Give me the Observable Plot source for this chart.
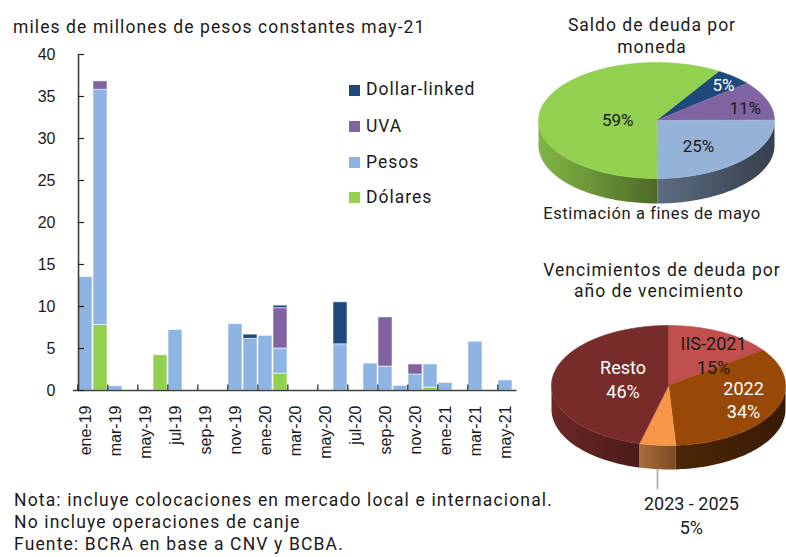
<!DOCTYPE html>
<html><head><meta charset="utf-8">
<script src="https://cdn.jsdelivr.net/npm/d3@7"></script>
<script src="https://cdn.jsdelivr.net/npm/@observablehq/plot@0.6"></script>
<style>
body{margin:0;background:#fff;}
#root{position:relative;width:786px;height:557px;overflow:hidden;font-family:Roboto,sans-serif;color:#1a1a1a;background:#fff;}
#root svg{position:absolute;overflow:visible;}
</style></head><body><div id="root"></div>
<script>
// ---------- Data ----------
const months = ["ene-19","feb-19","mar-19","abr-19","may-19","jun-19","jul-19","ago-19","sep-19","oct-19","nov-19","dic-19",
  "ene-20","feb-20","mar-20","abr-20","may-20","jun-20","jul-20","ago-20","sep-20","oct-20","nov-20","dic-20",
  "ene-21","feb-21","mar-21","abr-21","may-21"];
const dolares      = [0,7.8,0,0,0,4.2,0,0,0,0,0,0, 0,2.0,0,0,0,0,0,0,0,0,0,0.35, 0,0,0,0,0];
const pesos        = [13.5,28.0,0.5,0,0,0,7.2,0,0,0,7.9,6.15, 6.5,3.0,0,0,0,5.5,0,3.2,2.85,0.55,1.9,2.75, 0.9,0,5.8,0,1.2];
const uva          = [0,1.0,0,0,0,0,0,0,0,0,0,0, 0,4.8,0,0,0,0,0,0,5.85,0,1.2,0, 0,0,0,0,0];
const dollarLinked = [0,0,0,0,0,0,0,0,0,0,0,0.5, 0,0.3,0,0,0,5.0,0,0,0,0,0,0, 0,0,0,0,0];
const seriesNames  = ["Dólares","Pesos","UVA","Dollar-linked"];
const legendOrder  = ["Dollar-linked","UVA","Pesos","Dólares"];
const xTickLabels  = months.filter((m,i)=>i%2===0);
const yTicks       = [0,5,10,15,20,25,30,35,40];

const pie1Names  = ["Dollar-linked","UVA","Pesos","Dólares"];
const pie1Values = [5,11,25,59];
const pie2Names  = ["IIS-2021","2022","2023 - 2025","Resto"];
const pie2Values = [15,34,5,46];

// ---------- Styles ----------
const seriesColors = {"Dólares":"#92d050","Pesos":"#8db4e2","UVA":"#8064a2","Dollar-linked":"#1f497d"};
const textColor = "#1a1a1a";
const axisFont = "'Liberation Sans', Arial, sans-serif";
const root = document.getElementById("root");

function addText(txt, x, baseline, {size=17.5, anchor="start", ls=1, color=textColor, family="Roboto, sans-serif"}={}) {
  const el = document.createElement("div");
  el.textContent = txt;
  Object.assign(el.style, {position:"absolute", left:x+"px", top:(baseline-0.9415*size)+"px",
    fontSize:size+"px", lineHeight:(1.2*size)+"px", whiteSpace:"nowrap", letterSpacing:ls+"px",
    fontFamily:family, color});
  if (anchor==="middle") el.style.transform = "translateX(-50%)";
  root.appendChild(el);
  return el;
}

// ---------- Bar chart ----------
const rows = [];
months.forEach((m,i)=>{
  const vals = {"Dólares":dolares[i],"Pesos":pesos[i],"UVA":uva[i],"Dollar-linked":dollarLinked[i]};
  seriesNames.forEach(s=>{ if (vals[s]>0) rows.push({month:m, series:s, value:vals[s]}); });
});
const W = 530, H = 480, xL = 73, xR = 516.5, yTop = 54, yBase = 390;
const pin = 0.09;
const step = (xR-xL)/(months.length - pin);
const bw = step*(1-pin);
const axisColor = "#404040";

const bars = Plot.plot({
  width: W, height: H,
  marginLeft: xL, marginRight: W-xR, marginTop: yTop, marginBottom: H-yBase,
  style: {background:"transparent", color: textColor, overflow:"visible"},
  x: {type:"band", domain: months, paddingInner: pin, paddingOuter: 0, label:null},
  y: {domain:[0,40], label:null},
  color: {domain: seriesNames, range: seriesNames.map(s=>seriesColors[s])},
  marks: [
    Plot.barY(rows, {x:"month", y:"value", fill:"series", order: seriesNames, stroke:"#ffffff", strokeOpacity:0.55, strokeWidth:1}),
    Plot.ruleY([0], {stroke: axisColor, strokeWidth: 1.6}),
    Plot.ruleX([months[0]], {x: d=>d, y1: 0, y2: 40, dx: -bw/2, stroke: axisColor, strokeWidth: 1.6}),
    Plot.ruleX(xTickLabels, {x: d=>d, y1: 0, y2: 0.65, dx: -step/2, stroke: "#222", strokeWidth: 1.2}),
    Plot.tickY(yTicks, {y: d=>d, x: () => months[0], insetRight: bw-6, stroke:"#222", strokeWidth: 1.2}),
    Plot.axisY({ticks: yTicks, tickSize: 0, tickPadding: 18, fontSize: 16, fontFamily: axisFont, label: null, anchor:"left"}),
    Plot.axisX({ticks: xTickLabels, tickSize: 0, tickRotate: -90, tickPadding: 15, fontSize: 16, fontFamily: axisFont, label: null})
  ]
});
bars.style.left = "0px"; bars.style.top = "0px";
root.appendChild(bars);

addText("miles de millones de pesos constantes may-21", 13, 33, {size:17.5, ls:1.1});

// Legend
const legendBaselines = [95.7, 132, 168, 203.3];
legendOrder.forEach((s,k)=>{
  const sq = document.createElement("div");
  Object.assign(sq.style, {position:"absolute", left:"349px", top:(legendBaselines[k]-11)+"px", width:"11px", height:"11px", background: seriesColors[s]});
  root.appendChild(sq);
  addText(s, 366, legendBaselines[k], {size:17.5, ls:1});
});

// ---------- 3D pies ----------
function pieChart({id, names, values, colors, sideColors, startAngle, width, height, cx, cy, rx, ry, depth, labelLayout, labelColors, labelText, fontSize, lineHeight, leader}) {
  const total = d3.sum(values);
  let a = startAngle;
  const slices = values.map((v,i)=>{ const a0 = a; a += v/total*360; return {i, a0, a1:a, v}; });
  const rad = Math.PI/180;
  const d = depth/ry;
  const pt = (deg, dy=0) => ({x: Math.sin(deg*rad), y: Math.cos(deg*rad) - dy});
  const arcPts = (a0,a1,dy=0) => { const n = Math.max(2, Math.ceil((a1-a0)/1.5)); return d3.range(n+1).map(k => pt(a0+(a1-a0)*k/n, dy)); };
  const marks = [];
  slices.forEach(s => {
    for (const off of [0,360]) {
      const b0 = Math.max(s.a0, 90+off), b1 = Math.min(s.a1, 270+off);
      if (b1 > b0) {
        const pts = [...arcPts(b0,b1), ...arcPts(b0,b1,d).reverse()];
        marks.push(Plot.line(pts, {x:"x", y:"y", fill:`url(#${id}-side${s.i})`, stroke:"none"}));
      }
    }
  });
  slices.forEach(s => {
    marks.push(Plot.line([{x:0,y:0}, ...arcPts(s.a0,s.a1)], {x:"x", y:"y", fill: colors[s.i], stroke: colors[s.i], strokeWidth: 0.6}));
  });
  if (leader) {
    const s = slices[leader.index];
    const mid = (s.a0+s.a1)/2;
    const p = pt(mid, d);
    marks.push(Plot.line([p, {x:p.x, y:leader.y2}], {x:"x", y:"y", stroke:"#a6a6a6", strokeWidth:1.5}));
  }
  const lab = slices.map(s => {
    const [r, ang] = labelLayout[s.i];
    return {x: r*Math.sin(ang*rad), y: r*Math.cos(ang*rad), text: labelText(names[s.i], s.v), color: labelColors[s.i]};
  });
  marks.push(Plot.text(lab, {x:"x", y:"y", text:"text", fill: d=>d.color, fontSize, lineHeight, lineAnchor:"middle", fontFamily:"Roboto, sans-serif"}));
  const svg = Plot.plot({
    width, height, margin: 0,
    style: {background:"transparent", overflow:"visible"},
    x: {domain:[-1,1], range:[cx-rx, cx+rx], axis:null},
    y: {domain:[-1,1], range:[cy+ry, cy-ry], axis:null},
    marks
  });
  const defs = d3.select(svg).insert("defs", ":first-child");
  sideColors.forEach(([c0,c1],i)=>{
    const g = defs.append("linearGradient").attr("id", `${id}-side${i}`).attr("x1",0).attr("x2",1).attr("y1",0).attr("y2",0);
    g.append("stop").attr("offset",0).attr("stop-color",c0);
    g.append("stop").attr("offset",1).attr("stop-color",c1);
  });
  return svg;
}

const pie1 = pieChart({
  id:"p1", names: pie1Names, values: pie1Values,
  colors: ["#1f497d","#8064a2","#95b3d7","#92d050"],
  sideColors: [["#1a3d68","#13304f"],["#6a5388","#4e3d66"],["#5c6d82","#363f4d"],["#82b646","#4d6a26"]],
  startAngle: 32, width: 256, height: 230, cx: 126, cy: 120, rx: 118, ry: 58, depth: 25,
  labelLayout: [[0.854,41.7],[0.788,72.6],[0.546,139.3],[0.33,276]],
  labelColors: ["#ffffff", textColor, textColor, textColor],
  labelText: (n,v) => `${v}%`, fontSize: 17, lineHeight: 1.3
});
pie1.style.left = "530px"; pie1.style.top = "0px";
root.appendChild(pie1);

const pie2 = pieChart({
  id:"p2", names: pie2Names, values: pie2Values,
  colors: ["#c0504d","#984807","#f79646","#772c2a"],
  sideColors: [["#8e3b39","#6e2c2a"],["#4c2606","#381b03"],["#a86d3c","#7a4a24"],["#6c2727","#4a1b1a"]],
  startAngle: 0, width: 256, height: 327, cx: 138, cy: 155, rx: 117, ry: 60, depth: 24,
  labelLayout: [[0.644,36.7],[0.681,109.7],[2.156,174.8],[0.406,286.7]],
  labelColors: [textColor, "#ffffff", textColor, "#ffffff"],
  labelText: (n,v) => `${n}\n${v}%`, fontSize: 18, lineHeight: 1.3,
  leader: {index: 2, y2: -1.72}
});
pie2.style.left = "530px"; pie2.style.top = "230px";
root.appendChild(pie2);

// Pie titles & captions
addText("Saldo de deuda por", 652, 31.7, {anchor:"middle", size:17.5, ls:1});
addText("moneda", 652, 53, {anchor:"middle", size:17.5, ls:1});
addText("Estimación a fines de mayo", 652, 220, {anchor:"middle", size:16.5, ls:0.6});
addText("Vencimientos de deuda por", 662, 276.7, {anchor:"middle", size:17.5, ls:1});
addText("año de vencimiento", 659, 297, {anchor:"middle", size:17.5, ls:1});

// Notes
addText("Nota: incluye colocaciones en mercado local e internacional.", 14, 506.5, {size:17.5, ls:1.15});
addText("No incluye operaciones de canje", 14, 528.5, {size:17.5, ls:1.15});
addText("Fuente: BCRA en base a CNV y BCBA.", 14, 550.5, {size:17.5, ls:1.15});
</script></body></html>
